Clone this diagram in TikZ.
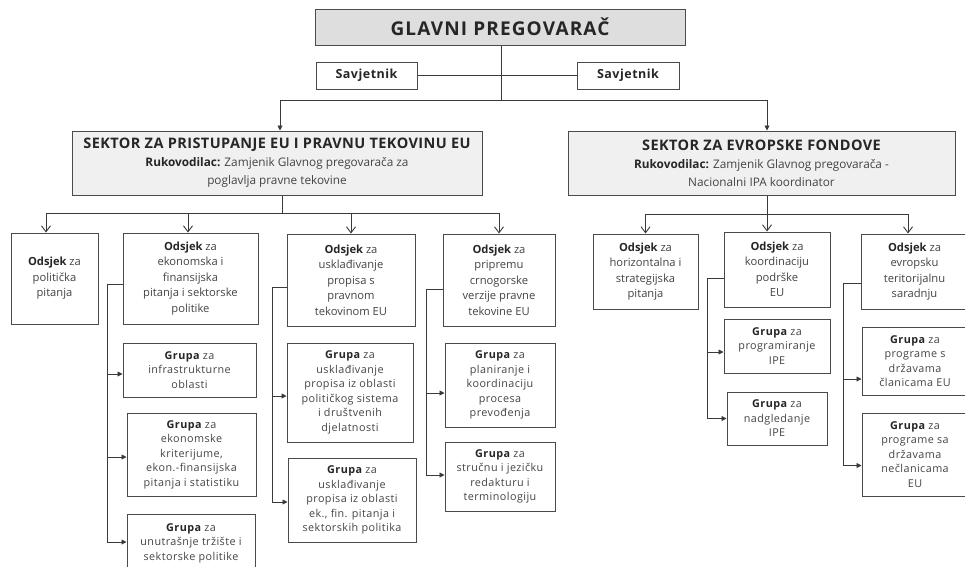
\documentclass[tikz,border=0pt]{standalone}
\usepackage{fontspec}
\setmainfont{Open Sans}
\newfontfamily\wideA[LetterSpace=6]{Open Sans}
\newfontfamily\wideB[LetterSpace=3]{Open Sans}
\newfontfamily\wideC[LetterSpace=4]{Open Sans}
\usetikzlibrary{arrows.meta}
\definecolor{linec}{HTML}{3A3A3A}
\definecolor{boxc}{HTML}{4A4A4A}
\definecolor{txt}{HTML}{444444}
\definecolor{dark}{HTML}{262626}
\definecolor{topfill}{HTML}{DEDEDE}
\definecolor{secfill}{HTML}{F0F0F0}
\newcommand\placebox[7]{\node[#6, minimum width={(#4)-(#2)}, minimum height={(#5)-(#3)}] (#1) at ({((#2)+(#4))/2},{((#3)+(#5))/2}) {#7};}
\newcommand\Bt[1]{\textbf{\color{dark}#1}}
\begin{document}
\begin{tikzpicture}[x=1pt,y=-1pt,
 base/.style={draw=boxc, line width=1pt, align=center, inner sep=0pt, text=txt},
 topbox/.style={base, fill=topfill, font=\wideA\fontsize{19}{22}\selectfont\bfseries, text=dark},
 savbox/.style={base, fill=white, font=\wideC\fontsize{12.5}{15}\selectfont\bfseries, text=dark},
 secbox/.style={base, fill=secfill, font=\fontsize{11.8}{18}\selectfont},
 odbox/.style={base, fill=white, font=\fontsize{11.2}{15.5}\selectfont},
 grbox/.style={base, fill=white, font=\wideC\fontsize{10.8}{14.5}\selectfont},
 conn/.style={draw=linec, line width=0.9pt},
 arrF/.style={conn, -{Triangle[length=5pt,width=5pt]}},
 arrO/.style={conn, -{Straight Barb[length=6pt,width=9pt]}},
]
\useasboundingbox (0,0) rectangle (965,566);
\clip (0,0) rectangle (965,566);

\placebox{glavni}{315}{9}{685}{45}{topbox}{GLAVNI PREGOVARAČ}
\placebox{sav1}{316}{62}{417}{89}{savbox}{Savjetnik}
\placebox{sav2}{577}{62}{679}{89}{savbox}{Savjetnik}
\placebox{sek1}{72}{131}{482}{195}{secbox}{{\wideB\fontsize{14.5}{18}\selectfont\Bt{SEKTOR ZA PRISTUPANJE EU I PRAVNU TEKOVINU EU}}\\ \Bt{Rukovodilac:} Zamjenik Glavnog pregovarača za\\ poglavlja pravne tekovine}
\placebox{sek2}{568}{131}{955}{195}{secbox}{{\wideB\fontsize{14.5}{18}\selectfont\Bt{SEKTOR ZA EVROPSKE FONDOVE}}\\ \Bt{Rukovodilac:} Zamjenik Glavnog pregovarača -\\ Nacionalni IPA koordinator}

\placebox{o1}{11}{233}{98}{324}{odbox}{\Bt{Odsjek} za\\ politička\\ pitanja}
\placebox{o2}{123}{233}{258}{324}{odbox}{\Bt{Odsjek} za\\ ekonomska i\\ finansijska\\ pitanja i sektorske\\ politike}
\placebox{o3}{287}{234}{415}{326}{odbox}{\Bt{Odsjek} za\\ usklađivanje\\ propisa s\\ pravnom\\ tekovinom EU}
\placebox{o4}{443}{234}{555}{326}{odbox}{\Bt{Odsjek} za\\ pripremu\\ crnogorske\\ verzije pravne\\ tekovine EU}
\placebox{o5}{593}{234}{698}{309}{odbox}{\Bt{Odsjek} za\\ horizontalna i\\ strategijska\\ pitanja}
\placebox{o6}{724}{232}{830}{307}{odbox}{\Bt{Odsjek} za\\ koordinaciju\\ podrške\\ EU}
\placebox{o7}{861}{234}{968}{309}{odbox}{\Bt{Odsjek} za\\ evropsku\\ teritorijalnu\\ saradnju}

\placebox{g21}{123}{343}{256}{397}{grbox}{\Bt{Grupa} za\\ infrastrukturne\\ oblasti}
\placebox{g22}{127}{413}{256}{496}{grbox}{\Bt{Grupa} za\\ ekonomske\\ kriterijume,\\ ekon.-finansijska\\ pitanja i statistiku}
\placebox{g23}{127}{514}{255}{572}{grbox}{\Bt{Grupa} za\\ unutrašnje tržište i\\ sektorske politike}
\placebox{g31}{287}{343}{413}{442}{grbox}{\Bt{Grupa} za\\ usklađivanje\\ propisa iz oblasti\\ političkog sistema\\ i društvenih\\ djelatnosti}
\placebox{g32}{288}{458}{416}{542}{grbox}{\Bt{Grupa} za\\ usklađivanje\\ propisa iz oblasti\\ ek., fin. pitanja i\\ sektorskih politika}
\placebox{g41}{445}{343}{555}{427}{grbox}{\Bt{Grupa} za\\ planiranje i\\ koordinaciju\\ procesa\\ prevođenja}
\placebox{g42}{445}{442}{555}{511}{grbox}{\Bt{Grupa} za\\ stručnu i jezičku\\ redakturu i\\ terminologiju}
\placebox{g51}{724}{319}{830}{373}{grbox}{\Bt{Grupa} za\\ programiranje\\ IPE}
\placebox{g52}{727}{392}{827}{445}{grbox}{\Bt{Grupa} za\\ nadgledanje\\ IPE}
\placebox{g61}{862}{327}{968}{395}{grbox}{\Bt{Grupa} za\\ programe s\\ državama\\ članicama EU}
\placebox{g62}{862}{413}{968}{496}{grbox}{\Bt{Grupa} za\\ programe sa\\ državama\\ nečlanicama\\ EU}

% top level
\coordinate (j0) at (501,100);
\draw[conn] (glavni.south -| j0) -- (j0);
\draw[conn] (sav1.east) -- (sav2.west);
\draw[arrF] (j0) -| ([xshift=3pt]sek1.north);
\draw[arrF] (j0) -| ([xshift=5.5pt]sek2.north);

% sector 1 -> odsjeks
\coordinate (b1) at (282,213);
\draw[conn] (sek1.south -| b1) -- (b1);
\draw[arrO] (b1) -| ([xshift=-8.5pt]o1.north);
\draw[arrO] (b1) -| ([xshift=-2.5pt]o2.north);
\draw[arrO] (b1) -| (o3.north);
\draw[arrO] (b1) -| (o4.north);

% sector 2 -> odsjeks
\coordinate (b2) at (767,214);
\draw[conn] (sek2.south -| b2) -- (b2);
\draw[arrO] (b2) -| (o5.north);
\draw[arrO] (b2) -- (b2 |- o6.north);
\draw[arrO] (b2) -| ([xshift=-6.5pt]o7.north);

% brackets
\coordinate (c2) at (107,284);
\draw[conn] (o2.west |- c2) -- (c2);
\draw[arrF] (c2) |- ([yshift=-4pt]g21.west);
\draw[arrF] (c2) |- ([yshift=-2.5pt]g22.west);
\draw[arrF] (c2) |- ([yshift=1pt]g23.west);

\coordinate (c3) at (272,287);
\draw[conn] (o3.west |- c3) -- (c3);
\draw[arrF] (c3) |- ([yshift=-3.5pt]g31.west);
\draw[arrF] (c3) |- ([yshift=-2pt]g32.west);

\coordinate (c4) at (426,289);
\draw[conn] (o4.west |- c4) -- (c4);
\draw[arrF] (c4) |- ([yshift=-8pt]g41.west);
\draw[arrF] (c4) |- ([yshift=1.5pt]g42.west);

\coordinate (c5) at (707,278);
\draw[conn] (o6.west |- c5) -- (c5);
\draw[arrF] (c5) |- ([yshift=-6pt]g51.west);
\draw[arrF] (c5) |- (g52.west);

\coordinate (c6) at (843,283);
\draw[conn] (o7.west |- c6) -- (c6);
\draw[arrF] (c6) |- ([yshift=-18pt]g61.west);
\draw[arrF] (c6) |- ([yshift=-11pt]g62.west);
\end{tikzpicture}
\end{document}
